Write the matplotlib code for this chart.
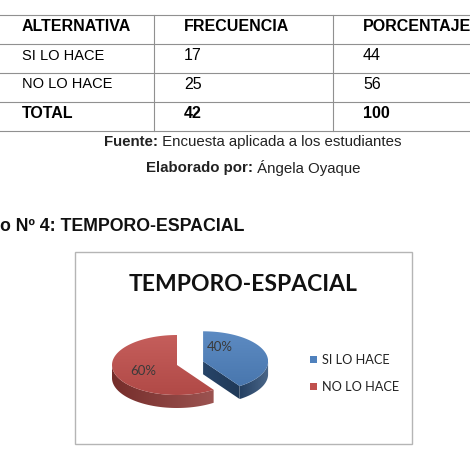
import numpy as np
import matplotlib.pyplot as plt
from matplotlib.patches import Polygon, Rectangle

# table data
encabezados = ['ALTERNATIVA', 'FRECUENCIA', 'PORCENTAJE']
alternativas = ['SI LO HACE', 'NO LO HACE']
frecuencia = [17, 25]
porcentaje = [44, 56]
total_frec = 42
total_pct = 100

# chart data
titulo = 'TEMPORO-ESPACIAL'
colores_top = ['#4F81BD', '#C0504D']
colores_side = ['#2B4C74', '#8A3532']

fig = plt.figure(figsize=(4.7, 4.6), dpi=100)
ax = fig.add_axes([0, 0, 1, 1])
ax.set_xlim(0, 470)
ax.set_ylim(460, 0)
ax.axis('off')

arial = 'Liberation Sans'
calibri = 'Lato'

# ---- table ----
row_lines = [16, 45, 74, 103, 132]
col_lines = [154, 333]
col_x = [22, 184, 363]
for y in row_lines:
    ax.plot([0, 470], [y, y], color='#909090', lw=0.8)
for x in col_lines:
    ax.plot([x, x], [row_lines[0], row_lines[-1]], color='#909090', lw=0.8)

filas = [encabezados]
for a, f, p in zip(alternativas, frecuencia, porcentaje):
    filas.append([a, str(f), str(p)])
filas.append(['TOTAL', str(total_frec), str(total_pct)])

for i, fila in enumerate(filas):
    yc = (row_lines[i] + row_lines[i + 1]) / 2 - 4
    bold = i == 0 or i == len(filas) - 1
    for j, txt in enumerate(fila):
        size = 11.5
        if j == 0 and not bold:
            size = 10.5
        ax.text(col_x[j], yc, txt, ha='left', va='center', fontsize=size,
                family=arial, fontweight='bold' if bold else 'normal',
                color='#000000')

# ---- source lines ----
def two_part(y, b, r):
    t1 = ax.text(0, y, b, fontsize=10.8, family=arial, fontweight='bold',
                 va='center', color='#222222')
    t2 = ax.text(0, y, ' ' + r, fontsize=10.8, family=arial, va='center',
                 color='#222222')
    fig.canvas.draw()
    inv = ax.transData.inverted()
    w1 = t1.get_window_extent()
    w2 = t2.get_window_extent()
    x1 = inv.transform((w1.x0, 0))[0]
    wa = inv.transform((w1.x1, 0))[0] - x1
    wb = inv.transform((w2.x1, 0))[0] - inv.transform((w2.x0, 0))[0]
    start = 253 - (wa + wb) / 2
    t1.set_x(start)
    t2.set_x(start + wa)

two_part(142, 'Fuente:', 'Encuesta aplicada a los estudiantes')
two_part(168, 'Elaborado por:', 'Ángela Oyaque')

ax.text(0, 227, 'o Nº 4: TEMPORO-ESPACIAL', fontsize=12.8, family=arial,
        fontweight='bold', va='center', ha='left', color='#111111')

# ---- chart box ----
ax.add_patch(Rectangle((75, 253), 337, 192, fill=False, ec='#b5b5b5', lw=1.0))
ax.text(243, 285, titulo, fontsize=16.5, family=calibri, fontweight='bold',
        ha='center', va='center', color='#111111')

# ---- 3D pie ----
cx0, cy0 = 177, 366
rx, ry, depth = 65, 30, 13
explode = [0.42, 0.0]

vals = np.array(frecuencia, dtype=float)
fracs = vals / vals.sum()
angles = 90 - np.concatenate([[0], np.cumsum(fracs) * 360])


def pt(cx, cy, th, dz=0):
    t = np.radians(th)
    return cx + rx * np.cos(t), cy - ry * np.sin(t) + dz


def arc(cx, cy, a, b, dz=0, n=80):
    th = np.linspace(a, b, n)
    t = np.radians(th)
    return np.column_stack([cx + rx * np.cos(t), cy - ry * np.sin(t) + dz])


def grad_fill(poly, c1, c2, horizontal=False, z=2):
    patch = Polygon(poly, closed=True, fc='none', ec='none', zorder=z)
    ax.add_patch(patch)
    x0, y0 = poly.min(axis=0)
    x1, y1 = poly.max(axis=0)
    c1 = np.array(plt.matplotlib.colors.to_rgb(c1))
    c2 = np.array(plt.matplotlib.colors.to_rgb(c2))
    s = np.linspace(0, 1, 64)
    g = c1[None, :] * (1 - s[:, None]) + c2[None, :] * s[:, None]
    img = g[None, :, :] if horizontal else g[:, None, :]
    im = ax.imshow(img, extent=(x0, x1, y1, y0), aspect='auto',
                   interpolation='bilinear', zorder=z)
    im.set_clip_path(patch)


def shade(c, f):
    c = np.array(plt.matplotlib.colors.to_rgb(c))
    if f > 1:
        return tuple(c + (1 - c) * (f - 1))
    return tuple(c * f)


for i in range(len(vals)):
    a_end, a_start = angles[i + 1], angles[i]  # slice spans a_end..a_start (ccw)
    mid = (a_start + a_end) / 2
    m = np.radians(mid)
    cx = cx0 + explode[i] * rx * np.cos(m)
    cy = cy0 - explode[i] * ry * np.sin(m)

    # radial cut faces facing the viewer
    for edge, sgn in [(a_end, -1), (a_start, 1)]:
        normal = np.radians(edge + sgn * 90)
        if np.sin(normal) < -0.05:
            ex, ey = pt(cx, cy, edge)
            quad = np.array([[cx, cy], [ex, ey], [ex, ey + depth], [cx, cy + depth]])
            grad_fill(quad, shade(colores_side[i], 0.9), shade(colores_side[i], 0.75),
                      horizontal=True, z=2)

    # outer side for the front half
    lo, hi = a_end % 360, a_start % 360
    if hi <= lo:
        hi += 360
    segs = []
    for base in (180, 540):
        s0, s1 = max(lo, base), min(hi, base + 180)
        if s1 > s0:
            segs.append((s0, s1))
    for s0, s1 in segs:
        top = arc(cx, cy, s0, s1)
        bot = arc(cx, cy, s1, s0, dz=depth)
        side = np.vstack([top, bot])
        grad_fill(side, shade(colores_side[i], 0.85), shade(colores_side[i], 1.15),
                  horizontal=True, z=3)

    # top face
    top = np.vstack([[cx, cy], arc(cx, cy, a_end, a_start)])
    grad_fill(top, shade(colores_top[i], 1.08), shade(colores_top[i], 0.92), z=4)

    pct = int(round(fracs[i] * 100))
    lx = cx + 0.55 * rx * np.cos(m)
    ly = cy - 0.6 * ry * np.sin(m)
    if i == 0:
        lx, ly = cx + 17, cy - 15
    ax.text(lx, ly, f'{pct}%', fontsize=9.5, family=calibri, ha='center',
            va='center', color='#3a3a3a', zorder=6)

# legend
for i, lab in enumerate(alternativas):
    y = 360 + i * 27
    ax.add_patch(Rectangle((310, y - 3.5), 7, 7, fc=colores_top[i], ec='none'))
    ax.text(322, y, lab, fontsize=9.2, family=calibri, ha='left', va='center',
            color='#222222')

fig.savefig('out.png', dpi=100)
